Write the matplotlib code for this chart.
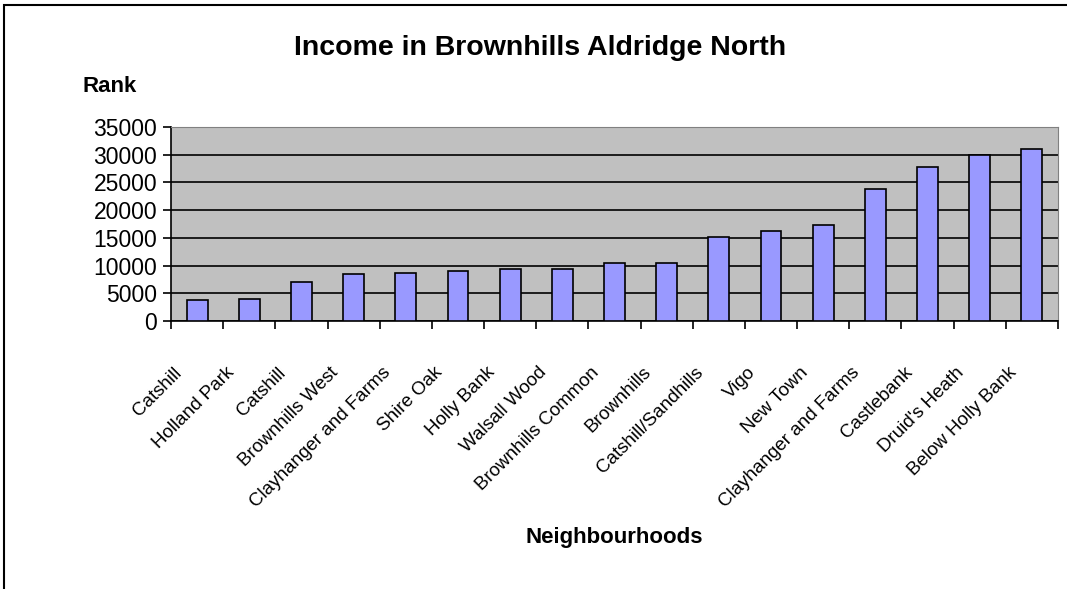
import matplotlib.pyplot as plt
from matplotlib.patches import Rectangle

neighbourhoods = ['Catshill', 'Holland Park', 'Catshill', 'Brownhills West',
                  'Clayhanger and Farms', 'Shire Oak', 'Holly Bank', 'Walsall Wood',
                  'Brownhills Common', 'Brownhills', 'Catshill/Sandhills', 'Vigo',
                  'New Town', 'Clayhanger and Farms', 'Castlebank', "Druid's Heath",
                  'Below Holly Bank']
rank = [3700, 4000, 7000, 8400, 8700, 9100, 9400, 9400,
        10500, 10500, 15200, 16300, 17300, 23900, 27800, 30000, 31000]
yticks = [0, 5000, 10000, 15000, 20000, 25000, 30000, 35000]

plt.rcParams['font.family'] = ['Liberation Sans', 'DejaVu Sans']

fig = plt.figure(figsize=(10.67, 5.89), dpi=100)
fig.patch.set_facecolor('white')
# chart frame (only left/top edges visible in the reference)
fig.patches.append(Rectangle((4 / 1067, -0.1), 1.2, 1.1 - 5 / 589, transform=fig.transFigure,
                             fill=False, edgecolor='black', linewidth=1.5))

ax = fig.add_axes([171 / 1067, 1 - 321 / 589, 887 / 1067, 194 / 589])
ax.set_facecolor('#C0C0C0')
x = list(range(len(rank)))
ax.bar(x, rank, width=0.4, color='#9999FF', edgecolor='black', linewidth=1.2, zorder=3)

ax.set_xlim(-0.5, len(rank) - 0.5)
ax.set_ylim(0, 35000)
ax.set_yticks(yticks)
ax.yaxis.grid(True, color='black', linewidth=1.2, zorder=1)
ax.set_axisbelow(True)
ax.tick_params(axis='y', labelsize=16.5, direction='out', length=6, width=1.2, pad=4)
ax.set_xticks([i - 0.5 for i in range(len(rank) + 1)])
ax.set_xticklabels([])
ax.tick_params(axis='x', direction='out', length=6, width=1.2)
for s in ['top', 'right']:
    ax.spines[s].set_color('#808080')
for s in ['left', 'bottom']:
    ax.spines[s].set_linewidth(1.2)

for i, name in enumerate(neighbourhoods):
    ax.annotate(name, xy=(i, 0), xycoords='data', xytext=(-24, -43),
                textcoords='offset pixels', rotation=45, rotation_mode='anchor',
                ha='right', va='top', fontsize=13.5)

fig.text(540 / 1067, 1 - 48 / 589, 'Income in Brownhills Aldridge North',
         ha='center', va='center', fontsize=20.5, fontweight='bold')
fig.text(83 / 1067, 1 - 86 / 589, 'Rank', ha='left', va='center',
         fontsize=16, fontweight='bold')
fig.text(614 / 1067, 1 - 538 / 589, 'Neighbourhoods', ha='center', va='center',
         fontsize=16, fontweight='bold')

fig.savefig('out.png', dpi=100)
